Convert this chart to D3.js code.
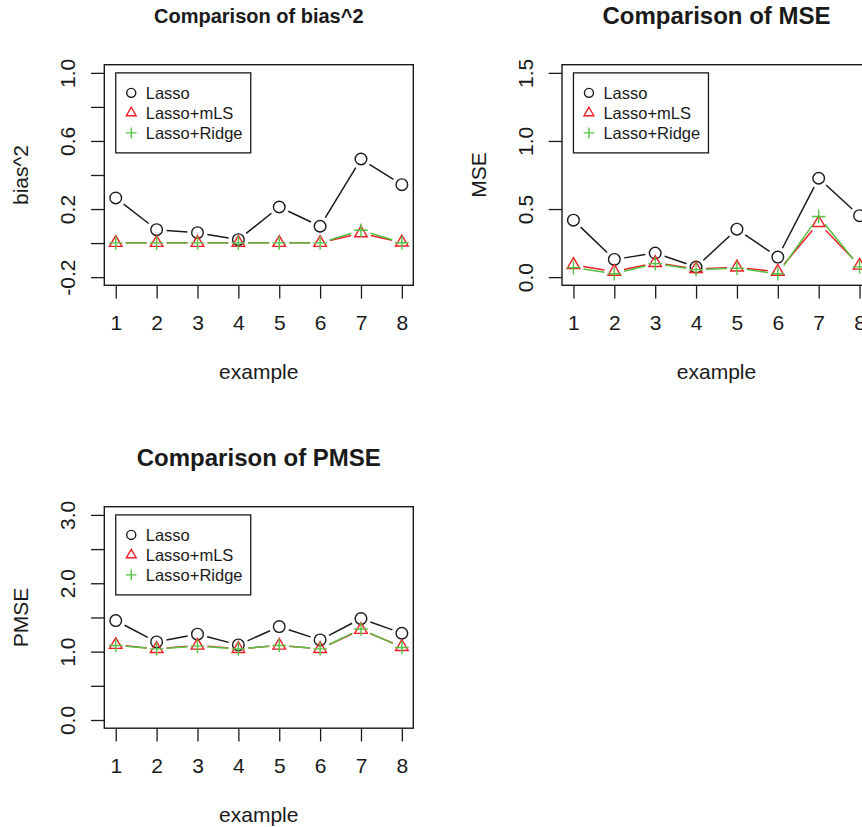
<!DOCTYPE html>
<html>
<head>
<meta charset="utf-8">
<title>Comparison of bias^2, MSE and PMSE</title>
<script src="https://d3js.org/d3.v7.min.js"></script>
<style>
  body { margin: 0; background: #fff; }
  svg text { font-family: "Liberation Sans", Arial, Helvetica, sans-serif; fill: #1a1a1a; }
</style>
</head>
<body>
<div id="chart"></div>
<script>
// data
const examples = [1, 2, 3, 4, 5, 6, 7, 8];
const seriesNames = ["Lasso", "Lasso+mLS", "Lasso+Ridge"];

const biasLasso = [0.265, 0.079, 0.061, 0.020, 0.212, 0.099, 0.494, 0.343];
const biasMLS   = [0.002, 0.002, 0.002, 0.002, 0.002, 0.002, 0.058, 0.004];
const biasRidge = [0.001, 0.001, 0.001, 0.001, 0.001, 0.001, 0.075, 0.002];

const mseLasso = [0.418, 0.130, 0.177, 0.074, 0.352, 0.147, 0.726, 0.451];
const mseMLS   = [0.090, 0.040, 0.105, 0.060, 0.072, 0.040, 0.398, 0.085];
const mseRidge = [0.070, 0.025, 0.099, 0.055, 0.065, 0.025, 0.445, 0.075];

const pmseLasso = [1.454, 1.142, 1.255, 1.098, 1.366, 1.171, 1.483, 1.269];
const pmseMLS   = [1.100, 1.040, 1.090, 1.040, 1.090, 1.040, 1.320, 1.070];
const pmseRidge = [1.090, 1.040, 1.080, 1.040, 1.090, 1.040, 1.330, 1.060];

const biasTicks = [-0.2, 0, 0.2, 0.4, 0.6, 0.8, 1.0];
const biasTickLabels = ["-0.2", "", "0.2", "", "0.6", "", "1.0"];
const mseTicks = [0, 0.5, 1.0, 1.5];
const mseTickLabels = ["0.0", "0.5", "1.0", "1.5"];
const pmseTicks = [0, 0.5, 1.0, 1.5, 2.0, 2.5, 3.0];
const pmseTickLabels = ["0.0", "", "1.0", "", "2.0", "", "3.0"];

const W = 862, H = 827;
const colors = ["#1a1a1a", "#f01d26", "#55c243"];
const svg = d3.select("#chart").append("svg")
    .attr("width", W).attr("height", H);

createPanel({
    left: 104.3, right: 413.3, top: 64.7, bottom: 285.3,
    title: "Comparison of bias^2", titleSize: 20, titleBase: 22.5, ylab: "bias^2",
    ticks: biasTicks, tickLabels: biasTickLabels,
    series: [biasLasso, biasMLS, biasRidge]
});
createPanel({
    left: 562, right: 871, top: 64.7, bottom: 285.3,
    title: "Comparison of MSE", titleSize: 24, titleBase: 24, ylab: "MSE",
    ticks: mseTicks, tickLabels: mseTickLabels,
    series: [mseLasso, mseMLS, mseRidge]
});
createPanel({
    left: 104.3, right: 413.3, top: 506.7, bottom: 728.2,
    title: "Comparison of PMSE", titleSize: 24, titleBase: 466, ylab: "PMSE",
    ticks: pmseTicks, tickLabels: pmseTickLabels,
    series: [pmseLasso, pmseMLS, pmseRidge]
});

function symbol(g, kind, cx, cy, s, color) {
    if (kind === 0) {
        g.append("circle").attr("cx", cx).attr("cy", cy).attr("r", 5.8 * s)
            .attr("fill", "none").attr("stroke", color).attr("stroke-width", 1.4);
    } else if (kind === 1) {
        const h = 6.3 * s, r = 7.2 * s, yc = 3.6 * s;
        g.append("path")
            .attr("d", `M${cx},${cy - r}L${cx + h},${cy + yc}L${cx - h},${cy + yc}Z`)
            .attr("fill", "none").attr("stroke", color).attr("stroke-width", 1.4);
    } else {
        const a = 6.8 * s;
        g.append("path")
            .attr("d", `M${cx - a},${cy}H${cx + a}M${cx},${cy - a}V${cy + a}`)
            .attr("fill", "none").attr("stroke", color).attr("stroke-width", 1.4);
    }
}

function createPanel(p) {
    const g = svg.append("g");
    const lo = p.ticks[0], hi = p.ticks[p.ticks.length - 1];
    const pad = (hi - lo) * 0.04;
    const x = d3.scaleLinear().domain([1 - 7 * 0.04, 8 + 7 * 0.04]).range([p.left, p.right]);
    const y = d3.scaleLinear().domain([lo - pad, hi + pad]).range([p.bottom, p.top]);

    // x axis
    const xa = g.append("g")
        .attr("transform", `translate(0,${p.bottom})`)
        .call(d3.axisBottom(x).tickValues(examples).tickSize(13.3).tickPadding(16.4).tickFormat(d3.format("d")));
    xa.select(".domain").remove();
    xa.selectAll("line").attr("stroke", "#1a1a1a").attr("stroke-width", 1.3);
    xa.selectAll("text").attr("font-size", 21).attr("fill", "#1a1a1a")
        .style("font-family", "'Liberation Sans', Arial, sans-serif");

    // y axis, labels turned like R does
    const ya = g.append("g")
        .attr("transform", `translate(${p.left},0)`)
        .call(d3.axisLeft(y).tickValues(p.ticks).tickSize(13.3)
            .tickFormat((d, i) => p.tickLabels[i]));
    ya.select(".domain").remove();
    ya.selectAll("line").attr("stroke", "#1a1a1a").attr("stroke-width", 1.3);
    ya.selectAll("text")
        .attr("x", null).attr("dy", null)
        .attr("transform", "translate(-29.3,0) rotate(-90)")
        .attr("text-anchor", "middle")
        .attr("font-size", 21).attr("fill", "#1a1a1a")
        .style("font-family", "'Liberation Sans', Arial, sans-serif");

    // box
    g.append("rect")
        .attr("x", p.left).attr("y", p.top)
        .attr("width", p.right - p.left).attr("height", p.bottom - p.top)
        .attr("fill", "none").attr("stroke", "#1a1a1a").attr("stroke-width", 1.4);

    // titles and axis labels
    g.append("text")
        .attr("x", (p.left + p.right) / 2).attr("y", p.titleBase)
        .attr("text-anchor", "middle").attr("font-weight", "bold")
        .attr("font-size", p.titleSize).text(p.title);
    g.append("text")
        .attr("x", (p.left + p.right) / 2).attr("y", p.bottom + 94)
        .attr("text-anchor", "middle").attr("font-size", 21).text("example");
    g.append("text")
        .attr("transform", `translate(${p.left - 76},${(p.top + p.bottom) / 2}) rotate(-90)`)
        .attr("text-anchor", "middle").attr("font-size", 21).text(p.ylab);

    // type = "b": segments with gaps around the points
    const gap = 10;
    p.series.forEach((vals, k) => {
        const pts = vals.map((v, i) => [x(examples[i]), y(v)]);
        for (let i = 0; i < pts.length - 1; i++) {
            const [x1, y1] = pts[i], [x2, y2] = pts[i + 1];
            const len = Math.hypot(x2 - x1, y2 - y1);
            if (len <= 2 * gap) continue;
            const ux = (x2 - x1) / len, uy = (y2 - y1) / len;
            g.append("line")
                .attr("x1", x1 + ux * gap).attr("y1", y1 + uy * gap)
                .attr("x2", x2 - ux * gap).attr("y2", y2 - uy * gap)
                .attr("stroke", colors[k]).attr("stroke-width", 1.5);
        }
        pts.forEach(([px, py]) => symbol(g, k, px, py, 1, colors[k]));
    });

    // legend at (1, top tick)
    const lx = x(1), ly = y(hi);
    g.append("rect")
        .attr("x", lx).attr("y", ly).attr("width", 135).attr("height", 80)
        .attr("fill", "#fff").attr("stroke", "#1a1a1a").attr("stroke-width", 1.3);
    seriesNames.forEach((name, k) => {
        const cy = ly + 20 * (k + 1);
        symbol(g, k, lx + 15.5, cy, 0.78, colors[k]);
        g.append("text")
            .attr("x", lx + 30).attr("y", cy + 6)
            .attr("font-size", 16.5).text(name);
    });
}
</script>
</body>
</html>
